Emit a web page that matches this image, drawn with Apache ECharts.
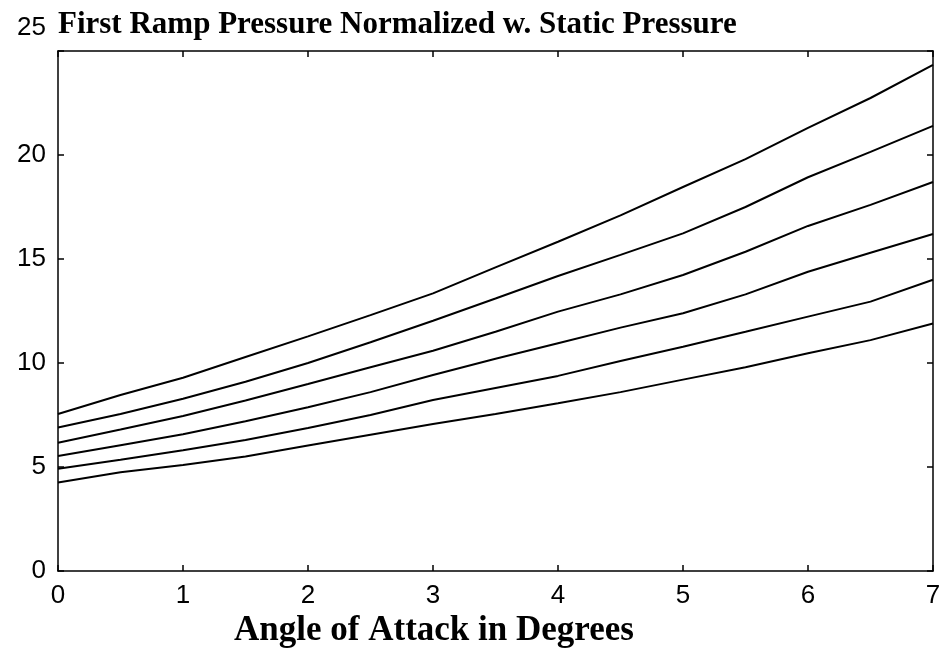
<!DOCTYPE html>
<html>
<head>
<meta charset="utf-8">
<script src="https://cdn.jsdelivr.net/npm/echarts@6/dist/echarts.min.js"></script>
<style>
html,body{margin:0;padding:0;background:#fff;}
#c{width:949px;height:649px;}
</style>
</head>
<body>
<div id="c"></div>
<script>
const titleText = 'First Ramp Pressure Normalized w. Static Pressure';
const xAxisName = 'Angle of Attack in Degrees';
const angles = [0, 0.5, 1, 1.5, 2, 2.5, 3, 3.5, 4, 4.5, 5, 5.5, 6, 6.5, 7];
const curve1 = [7.55, 8.46, 9.29, 10.29, 11.28, 12.3, 13.35, 14.6, 15.83, 17.1, 18.46, 19.8, 21.3, 22.74, 24.33];
const curve2 = [6.9, 7.55, 8.28, 9.1, 10.0, 11.0, 12.03, 13.1, 14.18, 15.2, 16.23, 17.5, 18.93, 20.15, 21.4];
const curve3 = [6.17, 6.8, 7.45, 8.2, 8.99, 9.8, 10.59, 11.5, 12.47, 13.3, 14.23, 15.35, 16.59, 17.6, 18.7];
const curve4 = [5.53, 6.05, 6.57, 7.2, 7.87, 8.6, 9.42, 10.2, 10.95, 11.7, 12.39, 13.3, 14.39, 15.3, 16.2];
const curve5 = [4.92, 5.35, 5.8, 6.3, 6.88, 7.5, 8.22, 8.8, 9.38, 10.1, 10.78, 11.5, 12.23, 12.95, 14.0];
const curve6 = [4.26, 4.75, 5.1, 5.5, 6.03, 6.55, 7.07, 7.55, 8.06, 8.6, 9.2, 9.8, 10.47, 11.1, 11.9];
const curves = [curve1, curve2, curve3, curve4, curve5, curve6];
const yMax = 25;

const chart = echarts.init(document.getElementById('c'), null, {renderer: 'canvas'});
const lineStyleAxis = {color: '#000', width: 1.5};
const tickFont = {fontFamily: 'Liberation Sans', fontSize: 26, color: '#000'};
chart.setOption({
  animation: false,
  backgroundColor: '#fff',
  title: {
    text: titleText,
    left: 53, top: 4,
    textStyle: {fontFamily: 'Liberation Serif', fontWeight: 'bold', fontSize: 31, color: '#000'}
  },
  grid: {left: 58, right: 16, top: 51, bottom: 78, containLabel: false, outerBoundsMode: 'none'},
  xAxis: [{
    type: 'value', min: 0, max: 7, interval: 1,
    name: xAxisName, nameLocation: 'middle', nameGap: 34,
    nameTextStyle: {fontFamily: 'Liberation Serif', fontWeight: 'bold', fontSize: 35, color: '#000', padding: [0, 123, 0, 0]},
    axisLine: {show: true, onZero: false, lineStyle: lineStyleAxis},
    axisTick: {show: true, inside: true, length: 6, lineStyle: lineStyleAxis},
    axisLabel: Object.assign({margin: 12}, tickFont),
    splitLine: {show: false}
  }, {
    type: 'value', min: 0, max: 7, interval: 1, position: 'top',
    axisLine: {show: true, onZero: false, lineStyle: lineStyleAxis},
    axisTick: {show: true, inside: true, length: 6, lineStyle: lineStyleAxis},
    axisLabel: {show: false},
    splitLine: {show: false}
  }],
  yAxis: [{
    type: 'value', min: 0, max: yMax, interval: 5,
    axisLine: {show: true, onZero: false, lineStyle: lineStyleAxis},
    axisTick: {show: true, inside: true, length: 6, lineStyle: lineStyleAxis},
    axisLabel: Object.assign({
      margin: 12,
      formatter: function (v) { return v === yMax ? '' : String(v); }
    }, tickFont),
    splitLine: {show: false}
  }, {
    type: 'value', min: 0, max: yMax, interval: 5, position: 'right',
    axisLine: {show: true, onZero: false, lineStyle: lineStyleAxis},
    axisTick: {show: true, inside: true, length: 6, lineStyle: lineStyleAxis},
    axisLabel: {show: false},
    splitLine: {show: false}
  }],
  series: curves.map(function (c, i) {
    return {
      name: 'curve' + (i + 1),
      type: 'line',
      xAxisIndex: 0, yAxisIndex: 0,
      data: angles.map(function (a, j) { return [a, c[j]]; }),
      showSymbol: false,
      lineStyle: {color: '#000', width: 2},
      smooth: false
    };
  })
});
// top tick label "25" sits above the frame in the reference
const p25 = chart.convertToPixel({xAxisIndex: 0, yAxisIndex: 0}, [0, yMax]);
chart.setOption({
  graphic: [{
    type: 'text',
    x: p25[0] - 12, y: p25[1] - 23,
    style: {text: String(yMax), align: 'right', verticalAlign: 'middle', fill: '#000',
      fontFamily: 'Liberation Sans', fontSize: 26}
  }]
});
</script>
</body>
</html>
